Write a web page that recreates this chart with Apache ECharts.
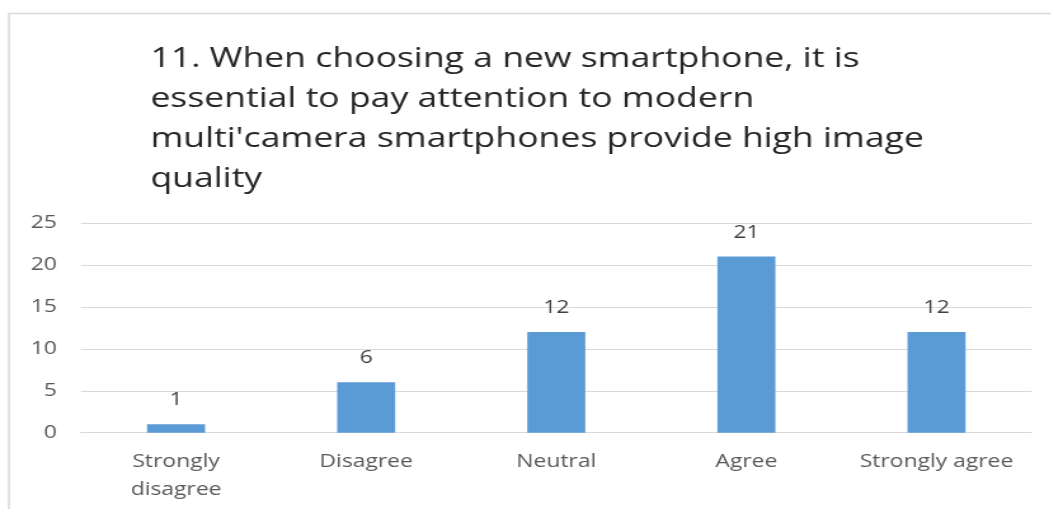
<!DOCTYPE html>
<html>
<head>
<meta charset="utf-8">
<script src="https://cdn.jsdelivr.net/npm/echarts@6/dist/echarts.min.js"></script>
<style>
  html, body { margin: 0; padding: 0; background: #fff; overflow: hidden; }
  #wrap { width: 1051px; height: 509px; overflow: hidden; position: relative; }
  #chart { position: absolute; left: 0; top: 0; height: 509px; transform-origin: 0 0; }
</style>
</head>
<body>
<div id="wrap"><div id="chart"></div></div>
<script>
// Survey question 11: response counts per answer
const titleLines = [
  "11. When choosing a new smartphone, it is",
  "essential to pay attention to modern",
  "multi'camera smartphones provide high image",
  "quality"
];
const categories = ["Strongly\ndisagree", "Disagree", "Neutral", "Agree", "Strongly agree"];
const counts = [1, 6, 12, 21, 12];
const yTicks = { min: 0, max: 25, interval: 5 };

// Wide text face: the chart is laid out narrower and stretched horizontally.
const stretch = 1.27;
const innerW = 1051 / stretch;
const el = document.getElementById('chart');
el.style.width = innerW + 'px';
el.style.transform = 'scaleX(' + stretch + ')';

const font = '"Open Sans", "Noto Sans", sans-serif';
const chart = echarts.init(el, null, { renderer: 'canvas' });
chart.setOption({
  animation: false,
  backgroundColor: '#ffffff',
  graphic: [{
    type: 'rect',
    shape: { x: 9 / stretch, y: 13.5, width: 2000, height: 1000 },
    style: { fill: 'none', stroke: '#d9d9d9', lineWidth: 1.5 },
    silent: true
  }],
  title: {
    text: titleLines.join('\n'),
    left: 144 / stretch,
    top: 34,
    textStyle: {
      fontFamily: font,
      fontSize: 28,
      fontWeight: 'normal',
      color: '#262626',
      lineHeight: 40
    }
  },
  grid: {
    left: 81 / stretch,
    right: innerW - 1031 / stretch,
    top: 223,
    bottom: 509 - 432.7,
    containLabel: false
  },
  xAxis: {
    type: 'category',
    data: categories,
    axisLine: { show: true, lineStyle: { color: '#d9d9d9', width: 1 } },
    axisTick: { show: false },
    axisLabel: {
      fontFamily: font,
      fontSize: 18,
      color: '#595959',
      lineHeight: 28,
      margin: 15,
      interval: 0
    }
  },
  yAxis: {
    type: 'value',
    min: yTicks.min,
    max: yTicks.max,
    interval: yTicks.interval,
    axisLine: { show: false },
    axisTick: { show: false },
    splitLine: { lineStyle: { color: '#d9d9d9', width: 1 } },
    axisLabel: {
      fontFamily: font,
      fontSize: 18,
      color: '#595959',
      margin: 19
    }
  },
  series: [{
    type: 'bar',
    data: counts,
    barWidth: '30.5%',
    itemStyle: { color: '#5b9bd5' },
    label: {
      show: true,
      position: 'top',
      distance: 15,
      fontFamily: font,
      fontSize: 18,
      color: '#404040'
    }
  }]
});
</script>
</body>
</html>
